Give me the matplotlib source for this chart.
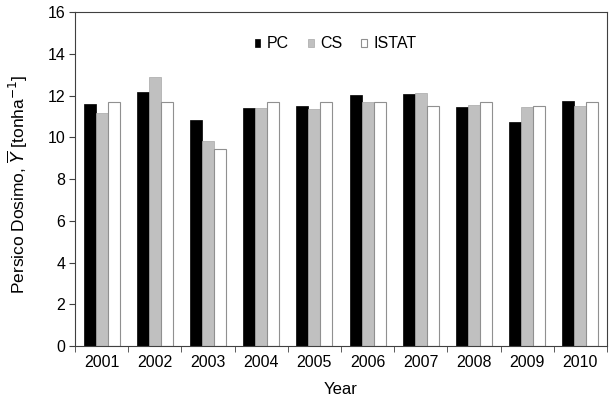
import matplotlib
matplotlib.use('Agg')
import matplotlib.pyplot as plt
import numpy as np

plt.rcParams['font.family'] = ['Liberation Sans', 'DejaVu Sans']

years = ['2001', '2002', '2003', '2004', '2005', '2006', '2007', '2008', '2009', '2010']
pc = [11.58, 12.15, 10.81, 11.39, 11.51, 12.02, 12.06, 11.45, 10.75, 11.72]
cs = [11.19, 12.87, 9.85, 11.43, 11.34, 11.69, 12.14, 11.55, 11.45, 11.51]
istat = [11.70, 11.70, 9.44, 11.70, 11.70, 11.69, 11.50, 11.70, 11.50, 11.70]

fig = plt.figure(figsize=(6.1, 4.03), dpi=100)
ax = fig.add_axes([0.123, 0.141, 0.872, 0.829])

x = np.arange(len(years))
w = 0.225
ax.bar(x - w, pc, w, color='black', edgecolor='black', linewidth=0.5, label='PC')
ax.bar(x, cs, w, color='#c0c0c0', edgecolor='#a8a8a8', linewidth=0.5, label='CS')
ax.bar(x + w, istat, w, color='white', edgecolor='#909090', linewidth=0.8, label='ISTAT')

ax.set_xlim(-0.5, len(years) - 0.5)
ax.set_ylim(0, 16)
ax.set_yticks(np.arange(0, 17, 2))
ax.set_xticks(x)
ax.set_xticklabels(years)
ax.set_xticks(np.arange(-0.5, len(years), 1), minor=True)
ax.tick_params(axis='x', which='major', length=0, labelsize=11.5, pad=6)
ax.tick_params(axis='x', which='minor', length=4, direction='out', color='#404040')
ax.tick_params(axis='y', length=4, direction='out', labelsize=11.5, color='#404040', pad=3)

for s in ax.spines.values():
    s.set_color('#404040')
    s.set_linewidth(0.8)

ax.set_xlabel('Year', fontsize=12, labelpad=9)
ax.set_ylabel(r'Persico Dosimo, $\overline{Y}$ [tonha$^{-1}$]', fontsize=12.5)
ax.yaxis.set_label_coords(-0.085, 0.485)

ax.legend(loc='upper center', ncol=3, frameon=False, fontsize=11.5,
          handlelength=0.35, handleheight=0.35, handletextpad=0.4,
          columnspacing=1.2, bbox_to_anchor=(0.49, 0.97))

fig.savefig('out.png', dpi=100)
